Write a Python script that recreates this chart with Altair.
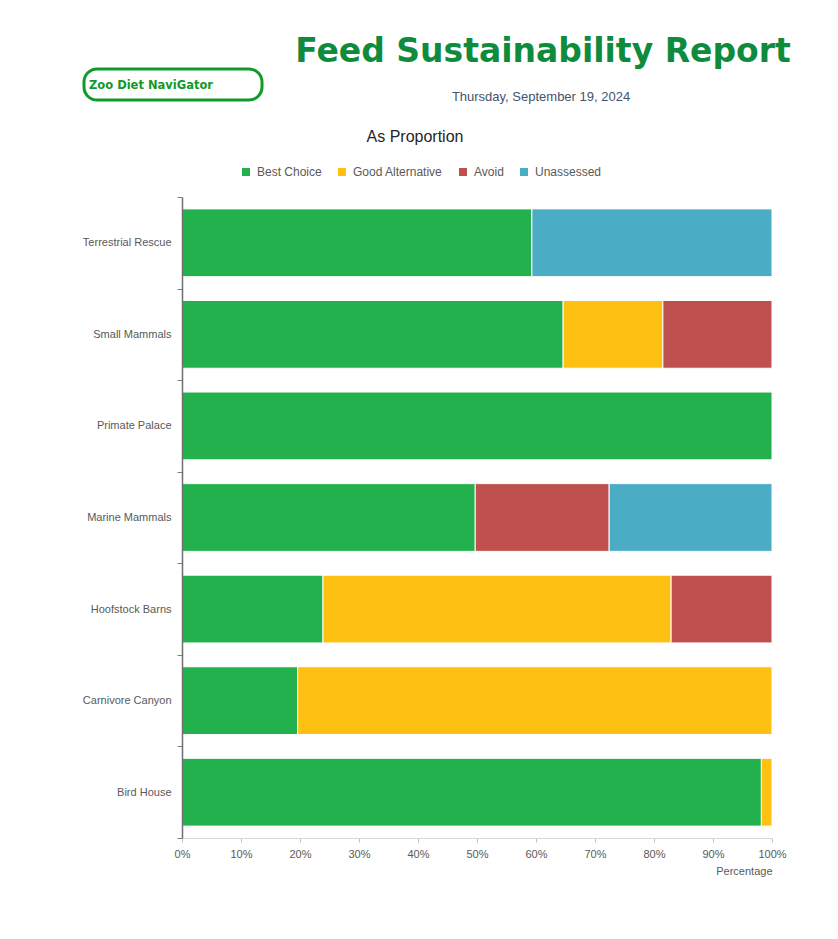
import altair as alt
import pandas as pd

# ---- data ----
categories = ["Terrestrial Rescue", "Small Mammals", "Primate Palace", "Marine Mammals",
              "Hoofstock Barns", "Carnivore Canyon", "Bird House"]
statuses = ["Best Choice", "Good Alternative", "Avoid", "Unassessed"]
colors = ["#23b14d", "#ffc111", "#c0504d", "#4bacc6"]
best_choice = [59.3, 64.6, 100.0, 49.7, 23.9, 19.6, 98.2]
good_alternative = [0.0, 16.9, 0.0, 0.0, 59.0, 80.4, 1.8]
avoid = [0.0, 18.5, 0.0, 22.7, 17.1, 0.0, 0.0]
unassessed = [40.7, 0.0, 0.0, 27.6, 0.0, 0.0, 0.0]
x_ticks = [0, 0.1, 0.2, 0.3, 0.4, 0.5, 0.6, 0.7, 0.8, 0.9, 1.0]

title_text = "Feed Sustainability Report"
date_text = "Thursday, September 19, 2024"
subtitle_text = "As Proportion"
logo_text = "Zoo Diet NaviGator"

series = [best_choice, good_alternative, avoid, unassessed]
rows = []
for si, (status, vals) in enumerate(zip(statuses, series)):
    for cat, v in zip(categories, vals):
        if v > 0:
            rows.append({"area": cat, "status": status, "value": v, "order": si})
df = pd.DataFrame(rows)

FONT = "Liberation Sans"
GREY = "#595959"
HEIGHT = 641

bars = alt.Chart(df).mark_bar(stroke="white", strokeWidth=1,
                              height=alt.RelativeBandSize(0.74)).encode(
    y=alt.Y("area:N", sort=categories, title=None,
            scale=alt.Scale(paddingInner=0, paddingOuter=0),
            axis=alt.Axis(tickBand="extent", domainColor="#6f6f6f", domainWidth=1.5,
                          tickColor="#7f7f7f", tickSize=5, labelPadding=6, zindex=1,
                          labelFont=FONT, labelFontSize=11, labelColor=GREY)),
    x=alt.X("value:Q", stack="normalize",
            scale=alt.Scale(domain=[0, 1], nice=False),
            axis=alt.Axis(values=x_ticks, format=".0%", title="Percentage",
                          titleAnchor="end", titleFont=FONT, titleFontSize=11,
                          titleFontWeight="normal", titleColor=GREY, titlePadding=6,
                          domainColor="#d9d9d9", tickColor="#bfbfbf", tickSize=4,
                          labelFont=FONT, labelFontSize=11, labelColor=GREY,
                          labelFlush=False, labelPadding=6, grid=False)),
    color=alt.Color("status:N", sort=statuses,
                    scale=alt.Scale(domain=statuses, range=colors),
                    legend=alt.Legend(title=None, orient="none", direction="horizontal",
                                      legendX=58, legendY=-31, symbolType="square",
                                      symbolSize=64, symbolStrokeWidth=0,
                                      labelFont=FONT, labelFontSize=12, labelColor=GREY,
                                      labelOffset=5, columnPadding=14)),
    order=alt.Order("order:Q"),
)

def text_layer(txt, x, y, **kw):
    return alt.Chart(pd.DataFrame({"t": [txt]})).mark_text(**kw).encode(
        text="t:N", x=alt.value(x), y=alt.value(y))

title = text_layer(title_text, 361, -145, font="DejaVu Sans", fontSize=33,
                   fontWeight="bold", color="#0f8b3e", align="center", baseline="middle")
date = text_layer(date_text, 359, -100, font=FONT, fontSize=13, color="#44546a",
                  align="center", baseline="middle")
subtitle = text_layer(subtitle_text, 233, -60, font=FONT, fontSize=16, color="#262626",
                      align="center", baseline="middle")
logo = text_layer(logo_text, -31, -111, font="DejaVu Sans", fontSize=11.5, fontWeight="bold",
                  color="#109a2a", align="center", baseline="middle")
logo_box = alt.Chart(pd.DataFrame({"t": [logo_text]})).mark_rect(
    filled=False, stroke="#109a2a", strokeWidth=3, cornerRadius=13).encode(
    x=alt.value(-98), x2=alt.value(80), y=alt.value(-128), y2=alt.value(-97))

chart = alt.layer(bars, title, date, subtitle, logo_box, logo).properties(
    width=590, height=HEIGHT,
    autosize=alt.AutoSizeParams(type="none"),
    padding={"left": 174, "top": 189, "right": 50, "bottom": 80},
).configure_view(stroke=None)

chart.save("out.html", embed_options={"renderer": "svg", "actions": False})
